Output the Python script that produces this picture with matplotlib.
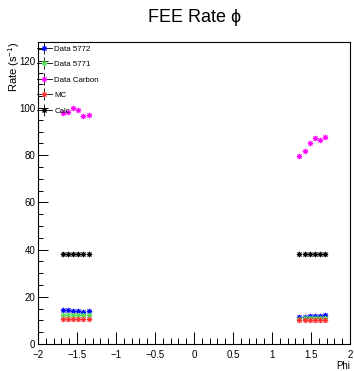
import matplotlib.pyplot as plt
from matplotlib.lines import Line2D
from matplotlib.ticker import MultipleLocator, FuncFormatter

plt.rcParams['font.family'] = ['Liberation Sans', 'DejaVu Sans']
plt.rcParams['mathtext.fontset'] = 'custom'
plt.rcParams['mathtext.rm'] = 'Liberation Sans'
plt.rcParams['mathtext.it'] = 'Liberation Sans'

# phi bin centres (two groups)
phi = [-1.685, -1.618, -1.551, -1.484, -1.417, -1.350,
       1.350, 1.417, 1.484, 1.551, 1.618, 1.685]

data_5772 = [14.2, 14.2, 14.1, 14.1, 13.7, 14.0,
             11.4, 11.6, 11.8, 11.9, 12.0, 12.1]
data_5771 = [12.3, 12.4, 12.3, 12.2, 12.1, 12.3,
             10.8, 10.9, 11.0, 11.0, 11.1, 11.0]
data_carbon = [98.0, 98.4, 100.1, 99.0, 96.6, 96.9,
               79.7, 81.9, 85.0, 87.3, 86.4, 87.8]
mc = [10.5, 10.5, 10.4, 10.4, 10.4, 10.4,
      10.1, 10.2, 10.2, 10.2, 10.2, 10.2]
calc = [38.0] * 12

series = [
    ("Data 5772", data_5772, "#0000ff"),
    ("Data 5771", data_5771, "#55dd55"),
    ("Data Carbon", data_carbon, "#ff00ff"),
    ("MC", mc, "#ff3333"),
    ("Calc", calc, "#000000"),
]

fig = plt.figure(figsize=(3.54, 3.71), dpi=100)
ax = fig.add_axes([38 / 354, 1 - 344 / 371, 312 / 354, 302 / 371])

star = (8, 2, 0)
handles = []
for name, vals, col in series:
    ax.plot(phi, vals, ls='none', marker=star, ms=3.8, mew=0.7, color=col)
    # legend entry ROOT-style: black error cross with coloured marker
    hline = Line2D([], [], color='black', lw=0.6)
    vbar = Line2D([], [], ls='none', marker='|', ms=9, mew=0.6, color='black')
    mk = Line2D([], [], ls='none', marker=star, ms=3.8, mew=0.7, color=col)
    handles.append((hline, vbar, mk))

ax.legend(handles, [s[0] for s in series], loc='upper left',
          bbox_to_anchor=(-0.02, 1.005), frameon=False, fontsize=5.7,
          handlelength=1.9, handletextpad=0.35, labelspacing=1.0,
          borderaxespad=0.2)

ax.set_xlim(-2, 2)
ax.set_ylim(0, 128)
ax.xaxis.set_major_locator(MultipleLocator(0.5))
ax.xaxis.set_minor_locator(MultipleLocator(0.1))
ax.yaxis.set_major_locator(MultipleLocator(20))
ax.yaxis.set_minor_locator(MultipleLocator(5))
fmt = FuncFormatter(lambda v, p: ('%g' % v).replace('-', '\u2212'))
ax.xaxis.set_major_formatter(fmt)
ax.yaxis.set_major_formatter(fmt)
ax.tick_params(which='both', direction='in', top=False, right=False,
               labelsize=7, width=0.7)
ax.tick_params(axis='x', which='major', length=9, pad=4)
ax.tick_params(axis='x', which='minor', length=4.5)
ax.tick_params(axis='y', which='major', length=7, pad=2)
ax.tick_params(axis='y', which='minor', length=3.5)
for s in ax.spines.values():
    s.set_linewidth(0.8)

ax.set_xlabel("Phi", fontsize=7, loc='right', labelpad=1)
ax.set_ylabel("Rate (s$^{-1}$)", fontsize=8, loc='top')
ax.yaxis.set_label_coords(-0.052, 1.0)

fig.text(195 / 354, 1 - 17 / 371, "FEE Rate \u03d5", ha='center', va='center',
         fontsize=13)

fig.savefig("out.png", dpi=100)
